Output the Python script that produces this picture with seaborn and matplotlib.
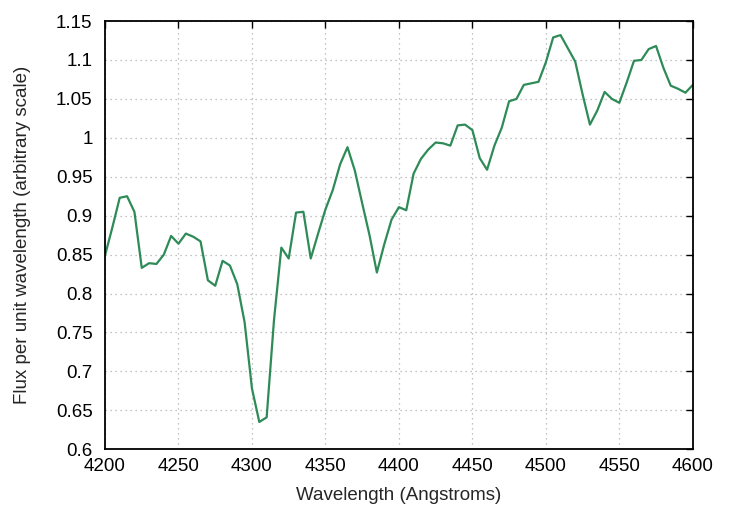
import matplotlib
matplotlib.use("Agg")
import matplotlib.pyplot as plt
import seaborn as sns
import numpy as np
import pandas as pd

# spectrum samples, every 5 Angstroms from 4200 to 4600
wavelength = np.arange(4200, 4601, 5)
flux = [0.849, 0.885, 0.923, 0.925, 0.905, 0.833, 0.839, 0.838, 0.850, 0.874,
        0.864, 0.877, 0.873, 0.867, 0.817, 0.810, 0.842, 0.836, 0.812, 0.763,
        0.678, 0.635, 0.641, 0.766, 0.859, 0.845, 0.904, 0.905, 0.845, 0.877,
        0.908, 0.933, 0.966, 0.988, 0.958, 0.916, 0.875, 0.827, 0.863, 0.895,
        0.911, 0.907, 0.954, 0.973, 0.985, 0.994, 0.993, 0.990, 1.016, 1.017,
        1.010, 0.974, 0.959, 0.990, 1.013, 1.047, 1.050, 1.068, 1.070, 1.072,
        1.097, 1.129, 1.132, 1.115, 1.098, 1.056, 1.017, 1.035, 1.059, 1.050,
        1.045, 1.071, 1.099, 1.100, 1.114, 1.118, 1.090, 1.067, 1.063, 1.058,
        1.068]

df = pd.DataFrame({'wavelength': wavelength, 'flux': flux})

sns.set_style('white')
plt.rcParams['font.family'] = ['Liberation Sans', 'DejaVu Sans']

fig, ax = plt.subplots(figsize=(7.37, 5.14), dpi=100)
fig.subplots_adjust(left=0.1425, right=0.940, bottom=0.126, top=0.959)

sns.lineplot(data=df, x='wavelength', y='flux', color='#2e8b57', linewidth=1.6, ax=ax)

ax.set_xlim(4200, 4600)
ax.set_ylim(0.6, 1.15)
ax.set_xticks(np.arange(4200, 4601, 50))
yt = np.round(np.arange(0.6, 1.151, 0.05), 2)
ax.set_yticks(yt)
ax.set_yticklabels(['%g' % v for v in yt])
ax.grid(True, color='#b0b0b0', linestyle=(0, (1, 3)), linewidth=0.9)
ax.tick_params(direction='in', top=True, right=True, length=5, width=1,
               labelsize=13.5, colors='black')
ax.tick_params(axis='y', pad=9)
ax.tick_params(axis='x', pad=6)
for s in ax.spines.values():
    s.set_color('black')
    s.set_linewidth(1.3)
    s.set_visible(True)

ax.set_xlabel('Wavelength (Angstroms)', fontsize=13.5, labelpad=9)
ax.set_ylabel('Flux per unit wavelength (arbitrary scale)', fontsize=13.5, labelpad=18)

fig.savefig('out.png', dpi=100)
